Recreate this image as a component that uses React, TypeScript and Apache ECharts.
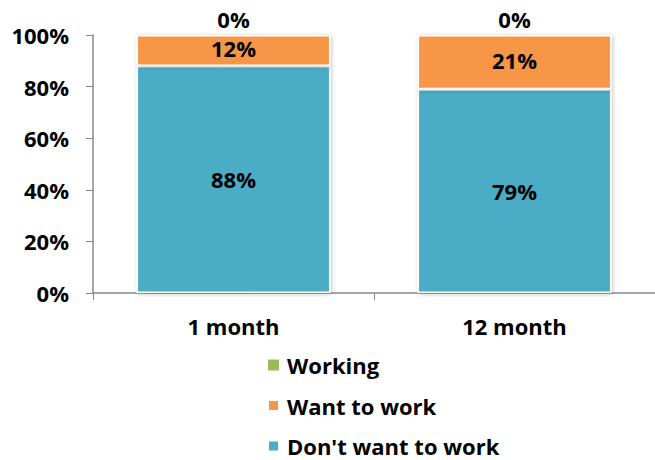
import React, { useEffect, useRef } from "react";
import * as echarts from "echarts";

const categories = ["1 month", "12 month"];
const working = [0, 0];
const wantToWork = [12, 21];
const dontWant = [88, 79];
const yTicks = [0, 20, 40, 60, 80, 100];

const FONT = "Open Sans";
const FS = 22;

export default function App() {
  const ref = useRef<HTMLDivElement>(null);
  useEffect(() => {
    const chart = echarts.init(ref.current!, null, { renderer: "svg" });
    const labelStyle = {
      show: true,
      fontFamily: FONT,
      fontWeight: "bold" as const,
      fontSize: FS,
      color: "#000",
      formatter: (p: any) => `${p.value}%`,
    };
    const shadow = {
      shadowColor: "rgba(0,0,0,0.25)",
      shadowBlur: 4,
      shadowOffsetX: 1,
      shadowOffsetY: 1,
    };
    chart.setOption({
      animation: false,
      grid: { left: 93, right: 0, top: 35, bottom: 167 },
      legend: {
        orient: "vertical",
        left: 267,
        top: 352,
        height: 108,
        padding: 0,
        itemWidth: 11,
        itemHeight: 11,
        itemGap: 14.5,
        icon: "rect",
        data: ["Working", "Want to work", "Don't want to work"],
        textStyle: {
          fontFamily: FONT,
          fontWeight: "bold",
          fontSize: FS,
          lineHeight: 26,
          color: "#000",
          padding: [0, 0, 0, 3],
        },
      },
      xAxis: {
        type: "category",
        data: categories,
        axisLine: { lineStyle: { color: "#888", width: 1.5 } },
        axisTick: { show: true, length: 7, lineStyle: { color: "#888" } },
        axisLabel: {
          fontFamily: FONT,
          fontWeight: "bold",
          fontSize: FS,
          color: "#000",
          margin: 22,
        },
      },
      yAxis: {
        type: "value",
        min: 0,
        max: 100,
        interval: 20,
        splitLine: { show: false },
        axisLine: { show: true, lineStyle: { color: "#888", width: 1.5 } },
        axisTick: { show: true, length: 7, lineStyle: { color: "#888" } },
        axisLabel: {
          fontFamily: FONT,
          fontWeight: "bold",
          fontSize: FS,
          color: "#000",
          margin: 24,
          formatter: (v: number) => (yTicks.includes(v) ? `${v}%` : ""),
        },
      },
      series: [
        {
          name: "Don't want to work",
          type: "bar",
          stack: "all",
          barWidth: "69%",
          data: dontWant,
          itemStyle: { color: "#4BACC6", borderColor: "#fff", borderWidth: 1.5, ...shadow },
          label: { ...labelStyle, position: "inside" },
        },
        {
          name: "Want to work",
          type: "bar",
          stack: "all",
          data: wantToWork,
          itemStyle: { color: "#F79646", borderColor: "#fff", borderWidth: 1.5, ...shadow },
          label: { ...labelStyle, position: "inside", offset: [0, -2] },
        },
        {
          name: "Working",
          type: "bar",
          stack: "all",
          data: working,
          itemStyle: { color: "#9BBB59" },
          label: { ...labelStyle, position: "top", distance: 5 },
        },
      ],
    });
    return () => chart.dispose();
  }, []);
  return (
    <div
      ref={ref}
      style={{ position: "fixed", left: 0, top: 0, width: 655, height: 460, background: "#fff" }}
    />
  );
}
